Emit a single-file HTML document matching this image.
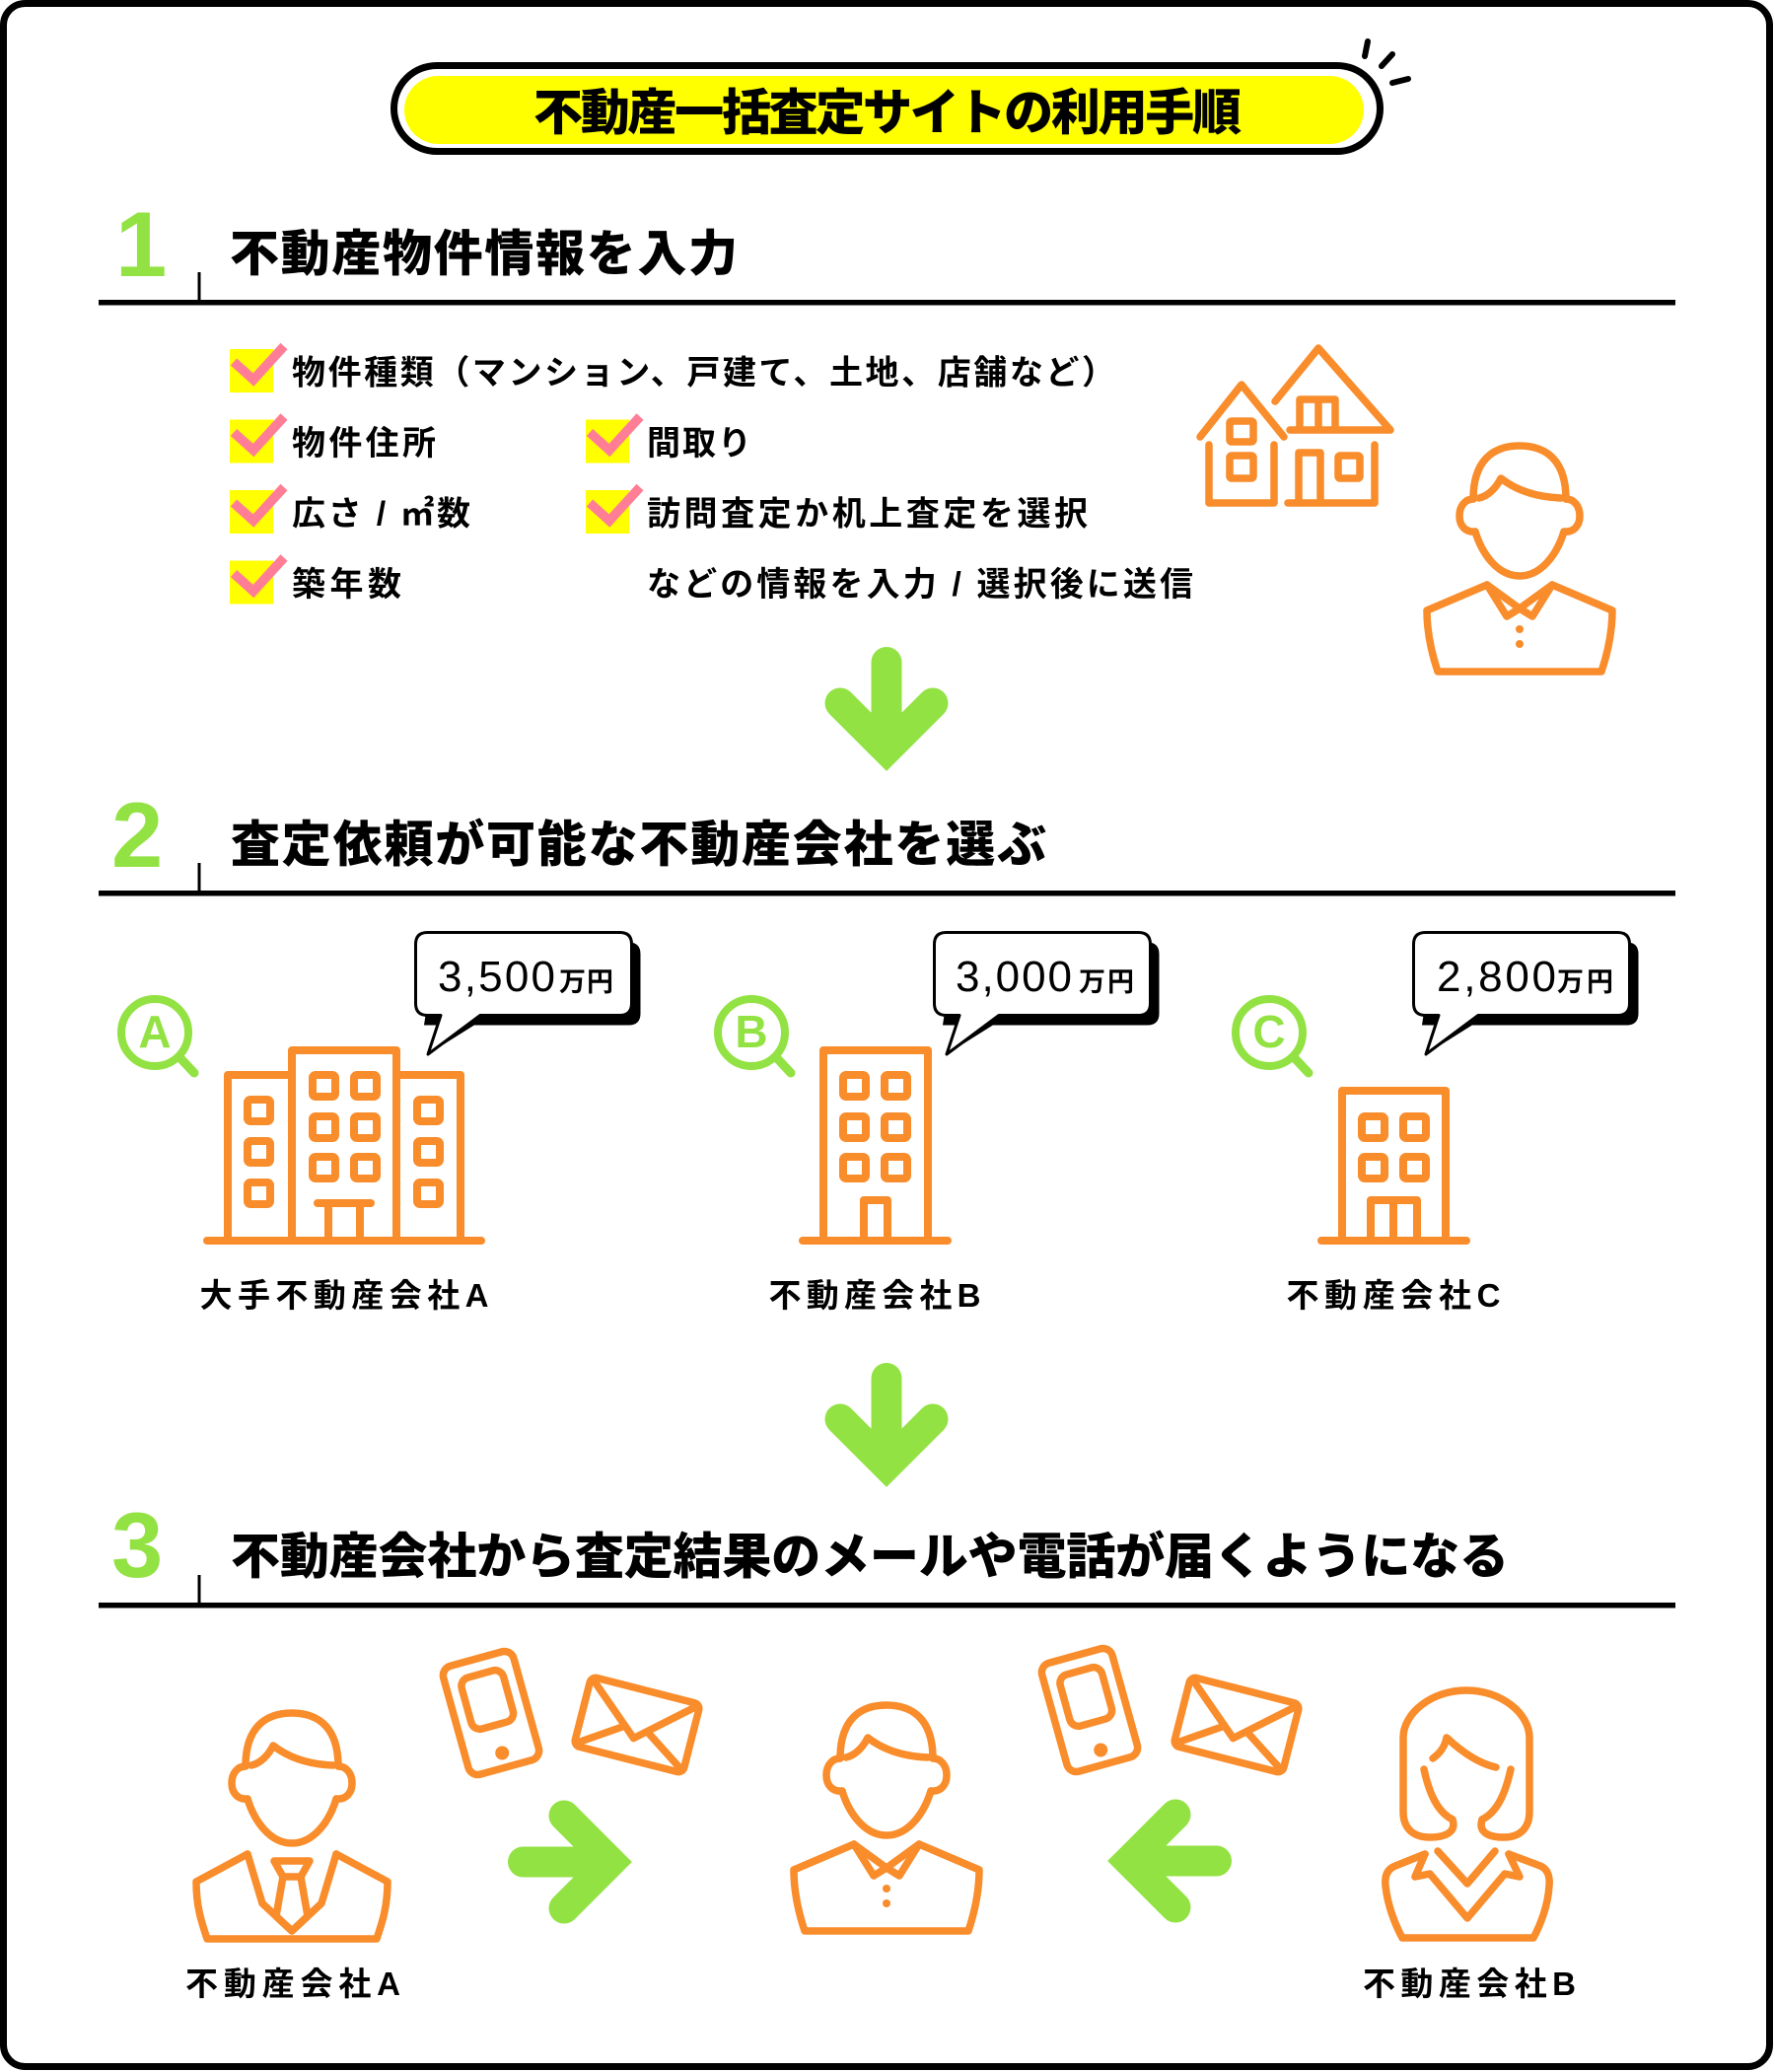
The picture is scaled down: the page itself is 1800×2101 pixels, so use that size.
<!DOCTYPE html>
<html lang="ja">
<head>
<meta charset="utf-8">
<style>
  html,body{margin:0;padding:0;background:#fff;}
  svg{display:block;}
  .jp{font-family:"Liberation Sans","Noto Sans CJK JP",sans-serif;}
  .o{fill:none;stroke:#F98C2B;stroke-width:7.5;stroke-linecap:round;stroke-linejoin:round;}
  .ob{fill:none;stroke:#F98C2B;stroke-width:8;stroke-linecap:round;stroke-linejoin:round;}
  .g{fill:none;stroke:#93E243;stroke-width:31;}
</style>
</head>
<body>
<svg width="1800" height="2101" viewBox="0 0 1800 2101" xmlns="http://www.w3.org/2000/svg">
  <defs>
    <g id="arr">
      <path class="g" d="M0,15.5 V100" stroke-linecap="round"/>
      <path class="g" d="M-47,57 L0,104 L47,57" stroke-linejoin="miter" stroke-linecap="round"/>
    </g>
    <g id="head">
      <path d="M-47,58 C-47,20 -28,4 0,4 C28,4 47,20 47,58"/>
      <path d="M-47,58 C-55,58 -61,65 -61,75 C-61,85 -55,92 -45,91"/>
      <path d="M47,58 C55,58 61,65 61,75 C61,85 55,92 45,91"/>
      <path d="M-45,91 C-38,114 -22,136 0,136 C22,136 38,114 45,91"/>
      <path d="M-41,57 C-32,55 -24,47 -19,37 C-5,48 15,56 42,57"/>
    </g>
    <g id="person">
      <use href="#head"/>
      <path d="M-33,145 L-94,171 C-94,195 -89,215 -83,233 L83,233 C89,215 94,195 94,171 L33,145"/>
      <path d="M-33,145 L-13,177 L0,169 L13,177 L33,145"/>
      <path d="M-33,145 L0,169 L33,145"/>
      <circle cx="0" cy="190" r="4" fill="#F98C2B" stroke="none"/>
      <circle cx="0" cy="205" r="4" fill="#F98C2B" stroke="none"/>
    </g>
    <g id="phone">
      <rect x="-37" y="-57" width="74" height="114" rx="10"/>
      <rect x="-22" y="-41" width="44" height="54" rx="9"/>
      <circle cx="0" cy="42" r="7" fill="#F98C2B" stroke="none"/>
    </g>
    <g id="env">
      <rect x="-57" y="-36" width="114" height="72" rx="6"/>
      <path d="M-55,-34 L0,14 L55,-34"/>
      <path d="M-55,33 L-13,5 M55,33 L13,5"/>
    </g>
  </defs>

  <!-- outer frame -->
  <rect x="3.5" y="3.5" width="1791" height="2092" rx="22" fill="#fff" stroke="#000" stroke-width="7"/>

  <!-- title pill -->
  <rect x="399.5" y="66.5" width="1000" height="87" rx="43.5" fill="#fff" stroke="#000" stroke-width="7"/>
  <rect x="410" y="77" width="973" height="69" rx="34.5" fill="#FFFF00"/>
  <g stroke="#000" stroke-width="6" stroke-linecap="round">
    <line x1="1387" y1="42" x2="1384" y2="57"/>
    <line x1="1412" y1="55" x2="1401" y2="67"/>
    <line x1="1412" y1="84" x2="1428" y2="80"/>
  </g>
  <text class="jp" x="900" y="131.5" font-size="50" font-weight="900" text-anchor="middle" textLength="718" lengthAdjust="spacing" fill="#000">不動産一括査定サイトの利用手順</text>

  <!-- Section 1 header -->
  <text x="117" y="280" font-family="Liberation Sans, sans-serif" font-size="94" font-weight="700" fill="#93E243">1</text>
  <text class="jp" x="233" y="274.5" font-size="50" font-weight="900" textLength="515" lengthAdjust="spacing" fill="#000">不動産物件情報を入力</text>
  <rect x="100" y="304" width="1599" height="5.5" fill="#000"/>
  <rect x="200.5" y="276" width="3" height="29" fill="#000"/>

  <!-- checklist -->
  <g>
    <rect x="233" y="354" width="44" height="44" fill="#FFFF00"/>
    <rect x="233" y="425.5" width="44" height="44" fill="#FFFF00"/>
    <rect x="233" y="497" width="44" height="44" fill="#FFFF00"/>
    <rect x="233" y="568.5" width="44" height="44" fill="#FFFF00"/>
    <rect x="594" y="425.5" width="44" height="44" fill="#FFFF00"/>
    <rect x="594" y="497" width="44" height="44" fill="#FFFF00"/>
    <g fill="none" stroke="#FF7E95" stroke-width="9.5" stroke-linejoin="miter">
      <path d="M237,367 L257,385 L288,351"/>
      <path d="M237,438.5 L257,456.5 L288,422.5"/>
      <path d="M237,510 L257,528 L288,494"/>
      <path d="M237,581.5 L257,599.5 L288,565.5"/>
      <path d="M598,438.5 L618,456.5 L649,422.5"/>
      <path d="M598,510 L618,528 L649,494"/>
    </g>
  </g>
  <g class="jp" font-size="34" font-weight="700" fill="#000">
    <text x="296" y="389.5" textLength="835" lengthAdjust="spacing">物件種類（マンション、戸建て、土地、店舗など）</text>
    <text x="296" y="461" textLength="146" lengthAdjust="spacing">物件住所</text>
    <text x="296" y="532.5" textLength="181" lengthAdjust="spacing">広さ / ㎡数</text>
    <text x="296" y="604" textLength="111" lengthAdjust="spacing">築年数</text>
    <text x="656" y="461" textLength="106" lengthAdjust="spacing">間取り</text>
    <text x="656" y="532.5" textLength="447" lengthAdjust="spacing">訪問査定か机上査定を選択</text>
    <text x="656" y="604" textLength="554" lengthAdjust="spacing">などの情報を入力 / 選択後に送信</text>
  </g>

  <!-- house icon -->
  <g class="o">
    <path d="M1217,443 L1259,390 L1302,443"/>
    <path d="M1226,451 V510 H1292 V451"/>
    <rect x="1247" y="427" width="24" height="21" rx="2"/>
    <rect x="1247" y="462" width="24" height="23" rx="2"/>
    <path d="M1293,407 L1337,353 L1410,436 H1308"/>
    <path d="M1318,435 V405 H1354 V435 M1337,405 V435"/>
    <path d="M1394,451 V510 H1306"/>
    <path d="M1317,510 V459 H1339 V510"/>
    <rect x="1357" y="462" width="22" height="23" rx="2"/>
  </g>
  <!-- person 1 -->
  <g class="o" transform="translate(1541,448)"><use href="#person"/></g>

  <!-- arrow 1 -->
  <use href="#arr" transform="translate(899,656)"/>

  <!-- Section 2 header -->
  <text x="113" y="879" font-family="Liberation Sans, sans-serif" font-size="94" font-weight="700" fill="#93E243">2</text>
  <text class="jp" x="234" y="873.5" font-size="50" font-weight="900" textLength="827" lengthAdjust="spacing" fill="#000">査定依頼が可能な不動産会社を選ぶ</text>
  <rect x="100" y="903" width="1599" height="5.5" fill="#000"/>
  <rect x="200.5" y="875" width="3" height="29" fill="#000"/>

  <!-- magnifiers -->
  <g fill="none" stroke="#93E243" stroke-width="8" stroke-linecap="round">
    <circle cx="157" cy="1047" r="34"/>
    <line x1="182" y1="1072" x2="197" y2="1088" stroke-width="9"/>
    <circle cx="762" cy="1047" r="34"/>
    <line x1="787" y1="1072" x2="802" y2="1088" stroke-width="9"/>
    <circle cx="1287" cy="1047" r="34"/>
    <line x1="1312" y1="1072" x2="1327" y2="1088" stroke-width="9"/>
  </g>
  <g font-family="Liberation Sans, sans-serif" font-size="46" font-weight="700" fill="#93E243" text-anchor="middle">
    <text x="157" y="1062">A</text>
    <text x="762" y="1062">B</text>
    <text x="1287" y="1062">C</text>
  </g>

  <!-- building A -->
  <g class="ob">
    <path d="M231,1258 V1090 H296"/>
    <path d="M296,1258 V1065 H402 V1258"/>
    <path d="M402,1090 H467 V1258"/>
    <path d="M210,1258 H488"/>
    <rect x="251" y="1115" width="23" height="22" rx="3"/>
    <rect x="251" y="1157" width="23" height="22" rx="3"/>
    <rect x="251" y="1199" width="23" height="22" rx="3"/>
    <rect x="423" y="1115" width="23" height="22" rx="3"/>
    <rect x="423" y="1157" width="23" height="22" rx="3"/>
    <rect x="423" y="1199" width="23" height="22" rx="3"/>
    <rect x="317" y="1090" width="23" height="22" rx="3"/>
    <rect x="359" y="1090" width="23" height="22" rx="3"/>
    <rect x="317" y="1132" width="23" height="22" rx="3"/>
    <rect x="359" y="1132" width="23" height="22" rx="3"/>
    <rect x="317" y="1173" width="23" height="22" rx="3"/>
    <rect x="359" y="1173" width="23" height="22" rx="3"/>
    <path d="M322,1220 H376 M333,1220 V1258 M365,1220 V1258"/>
  </g>
  <!-- building B -->
  <g class="ob">
    <path d="M835,1258 V1065 H941 V1258"/>
    <path d="M814,1258 H961"/>
    <rect x="855" y="1090" width="23" height="22" rx="3"/>
    <rect x="897" y="1090" width="23" height="22" rx="3"/>
    <rect x="855" y="1132" width="23" height="22" rx="3"/>
    <rect x="897" y="1132" width="23" height="22" rx="3"/>
    <rect x="855" y="1173" width="23" height="22" rx="3"/>
    <rect x="897" y="1173" width="23" height="22" rx="3"/>
    <path d="M876,1258 V1217 H900 V1258"/>
  </g>
  <!-- building C -->
  <g class="ob">
    <path d="M1361,1258 V1106 H1466 V1258"/>
    <path d="M1340,1258 H1487"/>
    <rect x="1381" y="1132" width="23" height="22" rx="3"/>
    <rect x="1423" y="1132" width="23" height="22" rx="3"/>
    <rect x="1381" y="1173" width="23" height="22" rx="3"/>
    <rect x="1423" y="1173" width="23" height="22" rx="3"/>
    <path d="M1390,1258 V1217 H1437 V1258 M1413,1217 V1258"/>
  </g>

  <!-- bubbles -->
  <g id="bubA">
    <path d="M442.5,955.5 H637.5 Q649.5,955.5 649.5,967.5 V1027.5 Q649.5,1039.5 637.5,1039.5 H430 Z" fill="#000"/>
    <path d="M496,1030 L434,1069 L456,1030 Z" fill="#000"/>
    <path d="M433.5,945.5 H628.5 Q640.5,945.5 640.5,957.5 V1017.5 Q640.5,1029.5 628.5,1029.5 H487 L434,1069 L447,1029.5 H433.5 Q421.5,1029.5 421.5,1017.5 V957.5 Q421.5,945.5 433.5,945.5 Z" fill="#fff" stroke="#000" stroke-width="3" stroke-linejoin="round"/>
  </g>
  <use href="#bubA" transform="translate(526,0)"/>
  <use href="#bubA" transform="translate(1012,0)"/>
  <g font-family="Liberation Sans, sans-serif" font-size="44" font-weight="400" fill="#000">
    <text x="444" y="1005" textLength="119" lengthAdjust="spacing">3,500</text>
    <text x="969" y="1005" textLength="118" lengthAdjust="spacing">3,000</text>
    <text x="1457" y="1005" textLength="121" lengthAdjust="spacing">2,800</text>
  </g>
  <g class="jp" font-size="27" font-weight="700" fill="#000">
    <text x="567" y="1005" textLength="55" lengthAdjust="spacing">万円</text>
    <text x="1094" y="1005" textLength="56" lengthAdjust="spacing">万円</text>
    <text x="1579" y="1005" textLength="57" lengthAdjust="spacing">万円</text>
  </g>

  <!-- building labels -->
  <g class="jp" font-size="33" font-weight="700" fill="#000" text-anchor="middle">
    <text x="349" y="1325" textLength="293" lengthAdjust="spacing">大手不動産会社A</text>
    <text x="887" y="1325" textLength="215" lengthAdjust="spacing">不動産会社B</text>
    <text x="1413" y="1325" textLength="217" lengthAdjust="spacing">不動産会社C</text>
  </g>

  <!-- arrow 2 -->
  <use href="#arr" transform="translate(899,1382)"/>

  <!-- Section 3 header -->
  <text x="113" y="1599" font-family="Liberation Sans, sans-serif" font-size="94" font-weight="700" fill="#93E243">3</text>
  <text class="jp" x="234" y="1595.5" font-size="50" font-weight="900" textLength="1296" lengthAdjust="spacing" fill="#000">不動産会社から査定結果のメールや電話が届くようになる</text>
  <rect x="100" y="1625" width="1599" height="5.5" fill="#000"/>
  <rect x="200.5" y="1597" width="3" height="29" fill="#000"/>

  <!-- suit person A -->
  <g class="o" transform="translate(296,1733)">
    <use href="#head"/>
    <path d="M-45,147 L-97,175 C-97,200 -92,215 -86,233 L86,233 C92,215 97,200 97,175 L45,147"/>
    <path d="M-45,147 L-30,197 L0,225 L30,197 L45,147"/>
    <path d="M-18,154 H18 L9,170 H-9 Z"/>
    <path d="M-9,170 L-16,210 L0,225 L16,210 L9,170"/>
  </g>

  <!-- center person -->
  <g class="o" transform="translate(899,1725)"><use href="#person"/></g>

  <!-- woman B -->
  <g class="o" transform="translate(1487,1712)">
    <path d="M-14,133 C-10,145 -20,151 -37,151 C-55,151 -64,141 -64,125 L-64,50 C-64,25 -35,2 0,2 C35,2 64,25 64,50 L64,125 C64,141 55,151 38,151 C21,151 12,145 16,133"/>
    <path d="M-43,82 C-38,105 -30,125 -14,133"/>
    <path d="M45,82 C40,105 32,125 16,133"/>
    <path d="M-34,71 C-27,66 -22,60 -20,50 C-5,64 12,76 30,80"/>
    <path d="M-42,168 L-72,180 C-80,183 -83,190 -82,200 C-80,220 -72,240 -65,253 L68,253 C75,240 83,220 84,200 C85,190 82,183 75,180 L43,168"/>
    <path d="M-42,168 L-52,191 L-37,188 L1,233 L39,188 L54,191 L43,168"/>
    <path d="M-29,165 L1,198 L29,165"/>
  </g>

  <!-- phones & envelopes -->
  <g class="o" transform="translate(498,1737) rotate(-15.5)"><use href="#phone"/></g>
  <g class="o" transform="translate(646,1749) rotate(14.3)"><use href="#env"/></g>
  <g class="o" transform="translate(1105,1734) rotate(-15.5)"><use href="#phone"/></g>
  <g class="o" transform="translate(1254,1749) rotate(14.3)"><use href="#env"/></g>

  <!-- horizontal arrows -->
  <use href="#arr" transform="translate(515,1888) rotate(-90)"/>
  <use href="#arr" transform="translate(1249,1887) rotate(90)"/>

  <!-- bottom labels -->
  <g class="jp" font-size="33" font-weight="700" fill="#000" text-anchor="middle">
    <text x="297" y="2023" textLength="218" lengthAdjust="spacing">不動産会社A</text>
    <text x="1490" y="2023" textLength="216" lengthAdjust="spacing">不動産会社B</text>
  </g>
</svg>
</body>
</html>
